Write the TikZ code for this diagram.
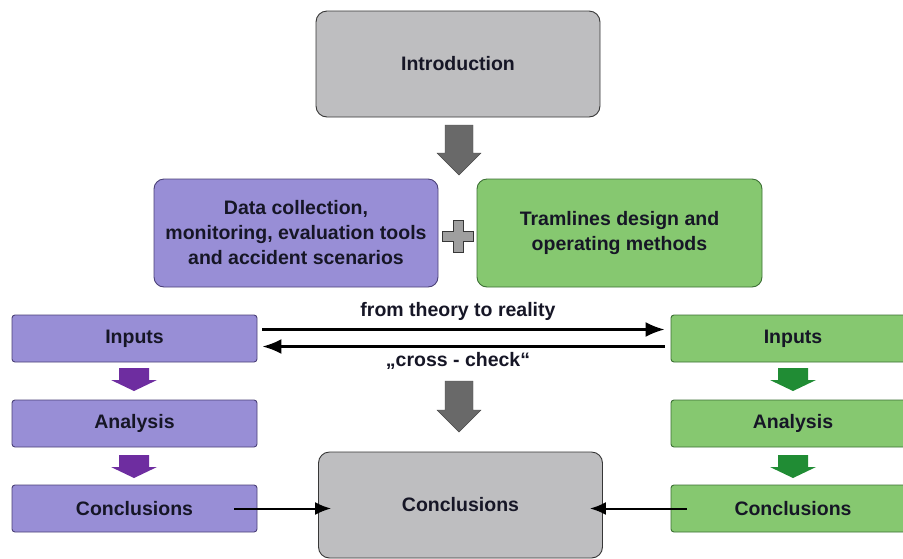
\documentclass[tikz,border=0pt]{standalone}
\usepackage{fontspec}
\setmainfont{Liberation Sans}
\usetikzlibrary{arrows.meta}
\definecolor{purfill}{RGB}{152,142,214}
\definecolor{purdraw}{RGB}{75,65,120}
\definecolor{grnfill}{RGB}{134,200,112}
\definecolor{grndraw}{RGB}{60,112,52}
\definecolor{gryfill}{RGB}{190,190,192}
\definecolor{grydraw}{RGB}{55,55,55}
\definecolor{txt}{RGB}{22,22,38}
\definecolor{purarrow}{RGB}{110,45,160}
\definecolor{grnarrow}{RGB}{32,140,52}
\definecolor{gryarrow}{RGB}{105,105,105}
\tikzset{
  basebox/.style={draw, line width=0.9pt, align=center, inner sep=0pt, text=txt,
    font=\bfseries\fontsize{19.5}{25}\selectfont},
  graybox/.style={basebox, fill=gryfill, draw=grydraw, rounded corners=11pt, minimum width=284pt, minimum height=106pt},
  purbig/.style={basebox, fill=purfill, draw=purdraw, rounded corners=10pt, minimum width=284pt, minimum height=108pt},
  grnbig/.style={basebox, fill=grnfill, draw=grndraw, rounded corners=10pt, minimum width=285pt, minimum height=108pt},
  pursmall/.style={basebox, fill=purfill, draw=purdraw, rounded corners=3pt, minimum width=245pt, minimum height=47pt},
  grnsmall/.style={basebox, fill=grnfill, draw=grndraw, rounded corners=3pt, minimum width=244pt, minimum height=47pt},
  lbl/.style={text=txt, inner sep=0pt, font=\bfseries\fontsize{19.5}{25}\selectfont},
  conn/.style={line width=2.3pt, draw=black, -{Latex[length=19pt,width=15pt]}},
  conn2/.style={line width=2pt, draw=black, -{Latex[length=16pt,width=13pt]}}
}
\begin{document}
\begin{tikzpicture}[x=1pt,y=-1pt]
\useasboundingbox (0,0) rectangle (903,558);
\clip (0,0) rectangle (903,558);
\fill[white] (0,0) rectangle (903,558);

% nodes
\node[graybox] (intro) at (458,64) {Introduction};
\node[purbig] (data) at (296,233) {Data collection,\\monitoring, evaluation tools\\and accident scenarios};
\node[grnbig] (tram) at (619.5,233) {Tramlines design and\\operating methods};

\node[pursmall] (li) at (134.5,338.5) {Inputs};
\node[pursmall] (la) at (134.5,423.5) {Analysis};
\node[pursmall] (lc) at (134.5,508.5) {Conclusions};

\node[grnsmall] (ri) at (793,338.5) {Inputs};
\node[grnsmall] (ra) at (793,423.5) {Analysis};
\node[grnsmall] (rc) at (793,508.5) {Conclusions};

\node[graybox] (final) at (460.5,505) {Conclusions};

\node[lbl] (l1) at (458,311) {from theory to reality};
\node[lbl] (l2) at (458,361) {„cross - check“};

% block arrows (gray)
\fill[gryarrow, draw=gryarrow!70!black, line width=0.4pt]
  (445,125) -- (473,125) -- (473,153) -- (481,153) -- (459,175) -- (437,153) -- (445,153) -- cycle;
\fill[gryarrow, draw=gryarrow!70!black, line width=0.4pt]
  (445,381) -- (473,381) -- (473,410) -- (481,410) -- (459,432) -- (437,410) -- (445,410) -- cycle;

% plus sign
\fill[gray!75, draw=grydraw, line width=0.8pt]
  (453,220) -- (463,220) -- (463,231) -- (473,231) -- (473,241) -- (463,241) -- (463,252)
  -- (453,252) -- (453,241) -- (442,241) -- (442,231) -- (453,231) -- cycle;

% purple small arrows
\fill[purarrow] (119,368) -- (149,368) -- (149,380) -- (157,380) -- (134,391) -- (111,380) -- (119,380) -- cycle;
\fill[purarrow] (119,455) -- (149,455) -- (149,467) -- (157,467) -- (134,478) -- (111,467) -- (119,467) -- cycle;

% green small arrows
\fill[grnarrow] (778,368) -- (808,368) -- (808,380) -- (816,380) -- (793,391) -- (770,380) -- (778,380) -- cycle;
\fill[grnarrow] (778,455) -- (808,455) -- (808,467) -- (816,467) -- (793,478) -- (770,467) -- (778,467) -- cycle;

% connectors
\draw[conn] ([xshift=5pt,yshift=9pt]li.east) -- ([xshift=-6pt,yshift=9pt]ri.west);
\draw[conn] ([xshift=-6pt,yshift=-8pt]ri.west) -- ([xshift=5pt,yshift=-8pt]li.east);
\draw[conn2] ([xshift=-23pt]lc.east) -- ([xshift=13pt]final.west |- lc.east);
\draw[conn2] ([xshift=16pt]rc.west) -- ([xshift=-13pt]final.east |- rc.west);
\end{tikzpicture}
\end{document}
